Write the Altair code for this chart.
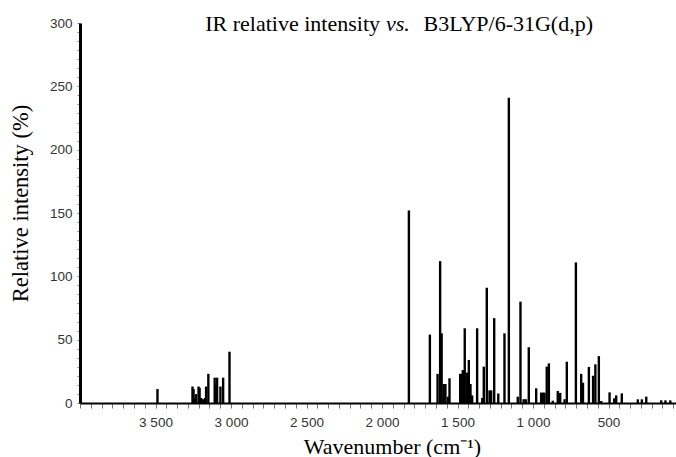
import altair as alt
import pandas as pd

# Peak positions (cm^-1) and relative intensities (%)
wavenumber = [
    3487, 3255, 3248, 3240, 3232, 3215, 3208, 3198, 3185, 3172, 3165, 3150,
    3108, 3100, 3092, 3070, 3052, 3010,
    1822, 1683, 1632, 1615, 1605, 1592, 1580, 1564, 1553,
    1482, 1473, 1465, 1452, 1436, 1425, 1414, 1403, 1370,
    1336, 1326, 1306, 1288, 1277, 1257, 1230, 1189, 1160,
    1101, 1083, 1062, 1048, 1028, 979, 946, 935, 924, 909, 895, 869,
    836, 820, 791, 776, 716, 681, 669, 630, 602, 587, 564, 548,
    493, 462, 449, 412, 306, 279, 250, 151, 123, 91,
]
intensity = [
    11, 13, 11, 4, 7, 13, 12, 4, 3, 4, 13, 23,
    20, 14, 20, 13, 20, 40.5,
    152, 54, 23, 112, 55, 15, 15, 5, 19.5,
    23, 23, 26, 59, 24, 34, 15, 6, 59,
    4, 28.7, 91, 10, 10, 67, 7.5, 55, 241,
    5, 80, 3, 3, 44, 11.6, 8.2, 8.2, 8.2, 28.7, 31.3, 1.8,
    9.5, 8, 3, 32.6, 111, 23, 16, 28.5, 21.5, 30.5, 37, 1.6,
    8.4, 3.7, 6, 7.6, 2.9, 2.9, 5, 2.1, 2.1, 2.1,
]

x_label_values = [3500, 3000, 2500, 2000, 1500, 1000, 500]
x_label_text = ["3 500", "3 000", "2 500", "2 000", "1 500", "1 000", "500"]
y_label_values = [0, 50, 100, 150, 200, 250, 300]
y_label_text = ["0", "50", "100", "150", "200", "250", "300"]

title_left = "IR relative intensity"
title_mid = "vs."
title_right = "B3LYP/6-31G(d,p)"
x_title = "Wavenumber (cm\u207b\u00b9)"
y_title = "Relative intensity (%)"

df = pd.DataFrame({"wn": wavenumber, "rel": intensity})

X_MIN, X_MAX = 53, 4000


def label_expr(values, texts):
    expr = "''"
    for v, t in reversed(list(zip(values, texts))):
        expr = f"round(datum.value) == {v} ? '{t}' : ({expr})"
    return expr


# minor tick positions: 7 subdivisions per labelled interval
x_ticks = [4000 - k * 500 / 7 for k in range(60) if 4000 - k * 500 / 7 >= X_MIN]
y_ticks = [k * 50 / 7 for k in range(43)]

bars = alt.Chart(df).mark_rule(color="black", strokeWidth=2.4).encode(
    x=alt.X(
        "wn:Q",
        scale=alt.Scale(domain=[X_MIN, X_MAX], reverse=True, nice=False, zero=False),
        axis=alt.Axis(
            values=x_ticks,
            labelExpr=label_expr(x_label_values, x_label_text),
            title=x_title,
            grid=False,
            domainColor="black",
            domainWidth=2,
            tickColor="#777",
            tickSize=5,
            tickWidth=1,
            labelFont="Liberation Sans",
            labelFontSize=13.5,
            labelColor="#333",
            labelPadding=7,
            labelOverlap=False,
            labelFlush=False,
            titleFont="Liberation Serif",
            titleFontSize=22,
            titleFontWeight="normal",
            titleColor="black",
            titleX=312,
            titleY=50,
            titleAlign="center",
            titleBaseline="alphabetic",
        ),
    ),
    y=alt.Y(
        "rel:Q",
        scale=alt.Scale(domain=[0, 300], nice=False),
        axis=alt.Axis(
            values=y_ticks,
            labelExpr=label_expr(y_label_values, y_label_text),
            title=y_title,
            grid=False,
            domainColor="black",
            domainWidth=3,
            tickColor="#888",
            tickSize=3,
            tickWidth=1,
            labelFont="Liberation Sans",
            labelFontSize=13.5,
            labelColor="#333",
            labelPadding=5,
            labelOverlap=False,
            labelFlush=False,
            titleFont="Liberation Serif",
            titleFontSize=22.5,
            titleFontWeight="normal",
            titleColor="black",
            titleAngle=270,
            titleX=-53,
            titleY=180,
            titleAlign="center",
            titleBaseline="alphabetic",
        ),
    ),
    y2=alt.datum(0),
)

TITLE_SIZE = 22
t1 = alt.Chart(pd.DataFrame({"t": [title_left]})).mark_text(
    font="Liberation Serif", fontSize=TITLE_SIZE, align="right", baseline="alphabetic", color="black"
).encode(x=alt.value(300), y=alt.value(8), text="t:N")
t2 = alt.Chart(pd.DataFrame({"t": [title_mid]})).mark_text(
    font="Liberation Serif", fontSize=TITLE_SIZE, fontStyle="italic", align="left",
    baseline="alphabetic", color="black"
).encode(x=alt.value(306), y=alt.value(8), text="t:N")
t3 = alt.Chart(pd.DataFrame({"t": [title_right]})).mark_text(
    font="Liberation Serif", fontSize=TITLE_SIZE, align="right", baseline="alphabetic", color="black"
).encode(x=alt.value(513), y=alt.value(8), text="t:N")

chart = alt.layer(bars, t1, t2, t3).properties(
    width=596,
    height=380,
    autosize=alt.AutoSizeParams(type="none"),
    padding={"left": 80, "top": 23, "right": 0, "bottom": 54},
    background="white",
).configure_view(stroke=None)

chart.save("out.html", embed_options={"renderer": "svg", "actions": False})
